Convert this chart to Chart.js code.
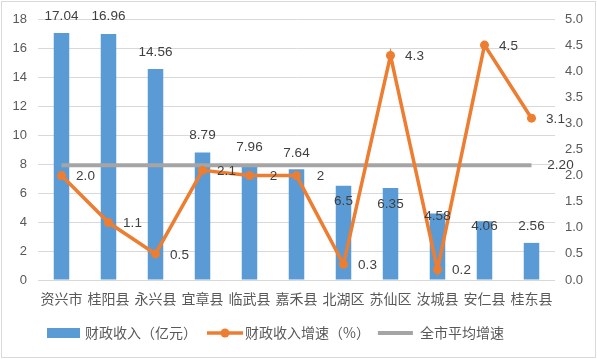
<!DOCTYPE html>
<html>
<head>
<meta charset="utf-8">
<script src="https://cdn.jsdelivr.net/npm/chart.js@4/dist/chart.umd.min.js"></script>
<style>
html,body{margin:0;padding:0;background:#fff;}
canvas{display:block;}
</style>
</head>
<body>
<canvas id="c" width="597" height="359"></canvas>
<script>
const categories = ["资兴市","桂阳县","永兴县","宜章县","临武县","嘉禾县","北湖区","苏仙区","汝城县","安仁县","桂东县"];
const revenue = [17.04, 16.96, 14.56, 8.79, 7.96, 7.64, 6.5, 6.35, 4.58, 4.06, 2.56];
const growth = [2.0, 1.1, 0.5, 2.1, 2, 2, 0.3, 4.3, 0.2, 4.5, 3.1];
const growthLabels = ["2.0","1.1","0.5","2.1","2","2","0.3","4.3","0.2","4.5","3.1"];
const cityAvg = [2.2, 2.2, 2.2, 2.2, 2.2, 2.2, 2.2, 2.2, 2.2, 2.2, 2.2];
const leftTicks = {min: 0, max: 18, step: 2};
const rightTicks = {min: 0, max: 5, step: 0.5};
const seriesNames = ["财政收入（亿元）", "财政收入增速（%）", "全市平均增速"];

// label placement tweaks (style, not data)
const barLabelDy = [-17,-18,-17,-17,-17,-16,16,16,3,5,-17];

const BLUE = "#5B9BD5", ORANGE = "#ED7D31", GRAY = "#A5A5A5";
const TXT = "#595959", LBL = "#404040";
const NUMFONT = "'Liberation Sans', Arial, sans-serif";
const CJKFONT = "'Noto Sans CJK SC', 'Noto Sans', sans-serif";

const labelPlugin = {
  id: "labels",
  beforeDraw(chart) {
    const ctx = chart.ctx;
    ctx.save();
    ctx.fillStyle = "#fff";
    ctx.fillRect(0, 0, chart.width, chart.height);
    ctx.strokeStyle = "#D9D9D9";
    ctx.lineWidth = 1;
    ctx.strokeRect(1.5, 1.5, 594, 356);
    ctx.restore();
  },
  afterDatasetsDraw(chart) {
    const ctx = chart.ctx;
    ctx.save();
    ctx.fillStyle = LBL;
    ctx.font = "13.5px " + NUMFONT;
    ctx.textAlign = "center";
    ctx.textBaseline = "middle";
    const barMeta = chart.getDatasetMeta(0);
    barMeta.data.forEach((el, i) => {
      ctx.fillText(String(revenue[i]), el.x, el.y + barLabelDy[i]);
    });
    const lineMeta = chart.getDatasetMeta(1);
    lineMeta.data.forEach((el, i) => {
      ctx.fillText(growthLabels[i], el.x + 24, el.y + 1);
    });
    const avgMeta = chart.getDatasetMeta(2);
    const last = avgMeta.data[avgMeta.data.length - 1];
    ctx.fillText(cityAvg[cityAvg.length - 1].toFixed(2), last.x + 29, last.y);

    // legend
    const ly = 333;
    let x = 47;
    ctx.font = "14px " + CJKFONT;
    ctx.textAlign = "left";
    ctx.fillStyle = BLUE;
    ctx.fillRect(x, ly - 5, 33, 10);
    x += 38;
    ctx.fillStyle = TXT;
    ctx.fillText(seriesNames[0], x, ly);
    x += ctx.measureText(seriesNames[0]).width + 10;
    ctx.strokeStyle = ORANGE;
    ctx.lineWidth = 3.5;
    ctx.beginPath(); ctx.moveTo(x, ly); ctx.lineTo(x + 36, ly); ctx.stroke();
    ctx.fillStyle = ORANGE;
    ctx.beginPath(); ctx.arc(x + 18, ly, 4.5, 0, Math.PI * 2); ctx.fill();
    x += 38;
    ctx.fillStyle = TXT;
    ctx.fillText(seriesNames[1], x, ly);
    x += ctx.measureText(seriesNames[1]).width + 8;
    ctx.strokeStyle = GRAY;
    ctx.lineWidth = 4;
    ctx.beginPath(); ctx.moveTo(x, ly); ctx.lineTo(x + 35, ly); ctx.stroke();
    x += 42;
    ctx.fillStyle = TXT;
    ctx.fillText(seriesNames[2], x, ly);
    ctx.restore();
  }
};

new Chart(document.getElementById("c"), {
  data: {
    labels: categories,
    datasets: [
      {type: "bar", label: seriesNames[0], data: revenue, backgroundColor: BLUE, yAxisID: "y",
       categoryPercentage: 1, barPercentage: 0.33, order: 3},
      {type: "line", label: seriesNames[1], data: growth, borderColor: ORANGE, backgroundColor: ORANGE,
       borderWidth: 3.5, pointRadius: 4.5, pointBackgroundColor: ORANGE, pointBorderWidth: 0,
       yAxisID: "y1", tension: 0, order: 1},
      {type: "line", label: seriesNames[2], data: cityAvg, borderColor: GRAY, backgroundColor: GRAY,
       borderWidth: 4, pointRadius: 0, yAxisID: "y1", order: 2}
    ]
  },
  options: {
    responsive: false,
    animation: false,
    events: [],
    layout: {padding: {top: 19, left: 0, right: 0, bottom: 0}},
    plugins: {legend: {display: false}, tooltip: {enabled: false}},
    scales: {
      x: {
        grid: {display: false}, border: {display: false},
        ticks: {color: TXT, font: {family: CJKFONT, size: 14}, padding: 2, maxRotation: 0, autoSkip: false},
        afterFit(s) { s.height = 79; }
      },
      y: {
        position: "left", min: leftTicks.min, max: leftTicks.max,
        ticks: {stepSize: leftTicks.step, color: TXT, font: {family: NUMFONT, size: 13}, padding: 11},
        grid: {color: "#D9D9D9", drawTicks: false, lineWidth: 1}, border: {display: false},
        afterFit(s) { s.width = 38; }
      },
      y1: {
        position: "right", min: rightTicks.min, max: rightTicks.max,
        ticks: {stepSize: rightTicks.step, color: TXT, font: {family: NUMFONT, size: 13}, padding: 10,
                callback: v => Number(v).toFixed(1)},
        grid: {display: false, drawTicks: false}, border: {display: false},
        afterFit(s) { s.width = 42; }
      }
    }
  },
  plugins: [labelPlugin]
});
</script>
</body>
</html>
